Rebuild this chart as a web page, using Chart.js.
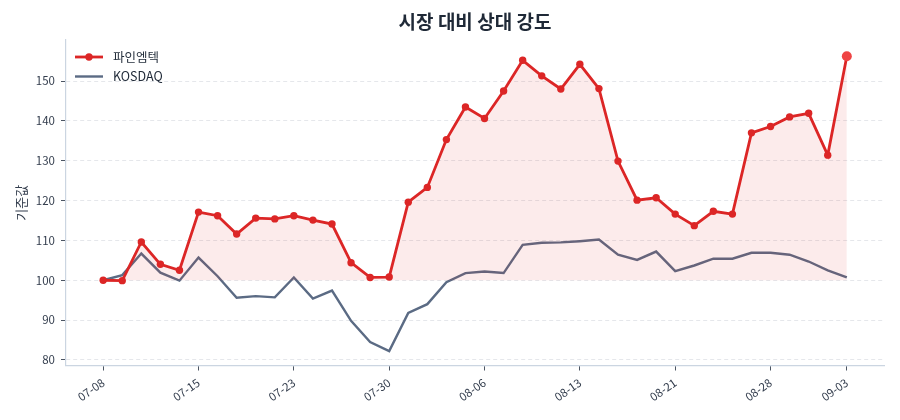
<!DOCTYPE html>
<html>
<head>
<meta charset="utf-8">
<script src="https://cdn.jsdelivr.net/npm/chart.js@4"></script>
<style>
  html, body { margin: 0; padding: 0; background: #ffffff; }
  #wrap { width: 900px; height: 420px; }
</style>
</head>
<body>
<div id="wrap"><canvas id="myChart"></canvas></div>
<script>
// 거래일 (2025)
const dates = [
  '07-08', '07-09', '07-10', '07-11', '07-14', '07-15', '07-16', '07-18', '07-21', '07-22',
  '07-23', '07-24', '07-25', '07-28', '07-29', '07-30', '07-31', '08-01', '08-04', '08-05',
  '08-06', '08-07', '08-08', '08-11', '08-12', '08-13', '08-14', '08-18', '08-19', '08-20',
  '08-21', '08-22', '08-25', '08-26', '08-27', '08-28', '08-29', '09-01', '09-02', '09-03'
];

// 파인엠텍 (기준 100)
const stockValues = [
  100.0, 99.9, 109.6, 104.0, 102.5, 117.1, 116.2, 111.6, 115.6, 115.4,
  116.2, 115.1, 114.1, 104.4, 100.7, 100.8, 119.6, 123.3, 135.3, 143.5,
  140.6, 147.5, 155.2, 151.3, 148.0, 154.2, 148.1, 129.9, 120.1, 120.7,
  116.6, 113.7, 117.3, 116.6, 137.0, 138.6, 141.0, 141.9, 131.4, 156.2
];

// KOSDAQ (기준 100)
const kosdaqValues = [
  100.0, 101.3, 106.7, 101.9, 99.9, 105.7, 101.0, 95.6, 96.0, 95.7,
  100.7, 95.4, 97.4, 89.8, 84.5, 82.2, 91.8, 94.0, 99.5, 101.8,
  102.2, 101.8, 108.9, 109.4, 109.5, 109.8, 110.2, 106.4, 105.1, 107.2,
  102.3, 103.7, 105.4, 105.4, 106.9, 106.9, 106.4, 104.7, 102.5, 100.7
];

const xTickIdx = [0, 5, 10, 15, 20, 25, 30, 35, 39];
const yTicks = [80, 90, 100, 110, 120, 130, 140, 150];

const RED = '#dc2626';
const GREY = '#5b6b84';
const FONT = "'Noto Sans CJK KR', 'Noto Sans', sans-serif";

const toPoints = arr => arr.map((v, i) => ({ x: i, y: v }));
const last = stockValues.length - 1;

// 제목 + 범례 (축 영역 기준)
const overlay = {
  id: 'overlay',
  afterDraw(chart) {
    const { ctx, chartArea: a } = chart;
    ctx.save();
    ctx.fillStyle = '#1f2937';
    ctx.font = "bold 19px " + FONT;
    ctx.textAlign = 'center';
    ctx.textBaseline = 'middle';
    ctx.fillText('시장 대비 상대 강도', (a.left + a.right) / 2, 22);

    const items = [
      { label: '파인엠텍', color: RED, dot: true },
      { label: 'KOSDAQ', color: GREY, dot: false }
    ];
    ctx.font = "12.5px " + FONT;
    ctx.textAlign = 'left';
    items.forEach((it, k) => {
      const y = a.top + 17 + k * 19.5;
      const x0 = a.left + 9;
      ctx.strokeStyle = it.color;
      ctx.lineWidth = it.dot ? 2.8 : 2.4;
      ctx.beginPath();
      ctx.moveTo(x0, y);
      ctx.lineTo(x0 + 28, y);
      ctx.stroke();
      if (it.dot) {
        ctx.fillStyle = it.color;
        ctx.beginPath();
        ctx.arc(x0 + 14, y, 3.7, 0, Math.PI * 2);
        ctx.fill();
      }
      ctx.fillStyle = '#1f2937';
      ctx.fillText(it.label, x0 + 38, y);
    });
    ctx.restore();
  }
};

new Chart(document.getElementById('myChart').getContext('2d'), {
  type: 'line',
  data: {
    datasets: [
      {
        label: '파인엠텍',
        data: toPoints(stockValues),
        borderColor: RED,
        borderWidth: 2.8,
        pointBackgroundColor: stockValues.map((v, i) => i === last ? '#ef4444' : RED),
        pointBorderColor: stockValues.map((v, i) => i === last ? '#ef4444' : RED),
        pointRadius: stockValues.map((v, i) => i === last ? 5 : 3.7),
        pointBorderWidth: 0,
        fill: { value: 100 },
        backgroundColor: 'rgba(220, 38, 38, 0.09)',
        tension: 0,
        order: 1
      },
      {
        label: 'KOSDAQ',
        data: toPoints(kosdaqValues),
        borderColor: GREY,
        borderWidth: 2.4,
        pointRadius: 0,
        fill: false,
        tension: 0,
        order: 2
      }
    ]
  },
  options: {
    responsive: true,
    maintainAspectRatio: false,
    animation: false,
    layout: { padding: { top: 40, right: 16, left: 0, bottom: 0 } },
    plugins: {
      legend: { display: false },
      title: { display: false },
      tooltip: { enabled: false }
    },
    scales: {
      x: {
        type: 'linear',
        min: -1.95,
        max: last + 1.95,
        afterBuildTicks: s => { s.ticks = xTickIdx.map(v => ({ value: v })); },
        afterFit: s => { s.height = 54.5; },
        ticks: {
          callback: v => dates[v],
          maxRotation: 35,
          minRotation: 35,
          padding: 5,
          color: '#333d4d',
          font: { family: FONT, size: 11.5 }
        },
        grid: {
          drawOnChartArea: false,
          drawTicks: true,
          tickLength: 5,
          tickColor: '#4b5563'
        },
        border: { color: '#cbd5e1', width: 1.2 }
      },
      y: {
        min: 78.6,
        max: 160.3,
        afterBuildTicks: s => { s.ticks = yTicks.map(v => ({ value: v })); },
        afterFit: s => { s.width = 66; },
        title: {
          display: true,
          text: '기준값',
          color: '#333d4d',
          font: { family: FONT, size: 13 },
          padding: { top: 13, bottom: 0 }
        },
        ticks: {
          padding: 6,
          color: '#333d4d',
          font: { family: FONT, size: 11.5 }
        },
        grid: {
          color: '#e5e7eb',
          lineWidth: 1,
          drawTicks: true,
          tickLength: 5,
          tickColor: '#4b5563'
        },
        border: { color: '#cbd5e1', width: 1.2, dash: [4, 3] }
      }
    }
  },
  plugins: [overlay]
});
</script>
</body>
</html>
